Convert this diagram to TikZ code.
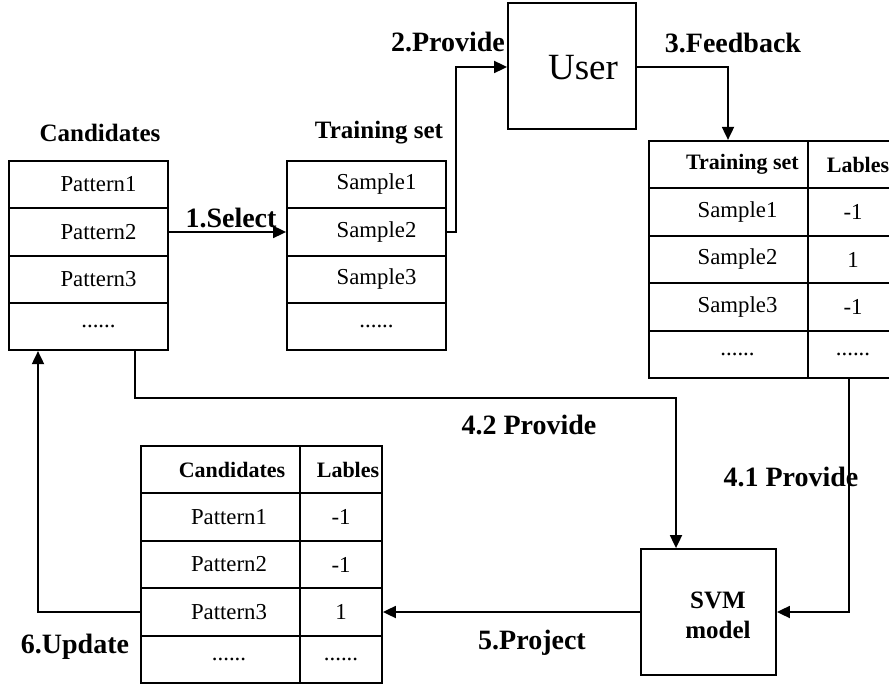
\documentclass[tikz,border=0pt]{standalone}
\usepackage{fontspec}
\setmainfont{Liberation Serif}
\usetikzlibrary{arrows.meta}
\tikzset{
  every picture/.style={x=1pt,y=-1pt},
  cell/.style={draw,line width=1.8pt,inner sep=0pt,font=\fontsize{22.8}{26}\selectfont},
  hcell/.style={cell,font=\fontsize{22}{26}\selectfont\bfseries},
  wide/.style={minimum width=159pt},
  narrowa/.style={minimum width=90pt},
  narrowb/.style={minimum width=82pt},
  rowh/.style={minimum height=47.4pt},
  bigbox/.style={draw,line width=1.8pt,inner sep=0pt},
  lbl/.style={font=\fontsize{28}{32}\selectfont\bfseries,inner sep=0pt},
  ttl/.style={font=\fontsize{25}{29}\selectfont\bfseries,inner sep=0pt},
  arr/.style={line width=1.8pt,-{Triangle[length=13pt,width=12pt]}}
}
\begin{document}
\begin{tikzpicture}
\useasboundingbox (0,0) rectangle (889,684);

% Left: Candidates
\node[ttl] (candT) at (100,133) {Candidates};
\node[cell,wide,rowh] (c1) at (88.5,184.5) {\hspace*{20pt}Pattern1};
\node[cell,wide,rowh] (c2) at (88.5,232) {\hspace*{20pt}Pattern2};
\node[cell,wide,rowh] (c3) at (88.5,279.5) {\hspace*{20pt}Pattern3};
\node[cell,wide,rowh] (c4) at (88.5,326.5) {\hspace*{20pt}......};

% Training set
\node[ttl] (trT) at (379,133) {Training set};
\node[cell,wide,rowh] (t1) at (366.5,184.5) {\hspace*{20pt}Sample1};
\node[cell,wide,rowh] (t2) at (366.5,232) {\hspace*{20pt}Sample2};
\node[cell,wide,rowh] (t3) at (366.5,279.5) {\hspace*{20pt}Sample3};
\node[cell,wide,rowh] (t4) at (366.5,326.5) {\hspace*{20pt}......};

% User
\node[bigbox,minimum width=128pt,minimum height=126pt] (user) at (572,66) {};
\node[font=\fontsize{37}{40}\selectfont,inner sep=0pt] (usertxt) at (583,68) {User};

% Right table
\node[hcell,wide,rowh] (r0a) at (728.5,164.5) {\hspace*{28pt}Training set};
\node[hcell,narrowa,rowh] (r0b) at (853,164.5) {\hspace*{10pt}Lables};
\node[cell,wide,rowh] (r1a) at (728.5,212) {\hspace*{18pt}Sample1};
\node[cell,narrowa,rowh] (r1b) at (853,212) {-1};
\node[cell,wide,rowh] (r2a) at (728.5,259.5) {\hspace*{18pt}Sample2};
\node[cell,narrowa,rowh] (r2b) at (853,259.5) {1};
\node[cell,wide,rowh] (r3a) at (728.5,307) {\hspace*{18pt}Sample3};
\node[cell,narrowa,rowh] (r3b) at (853,307) {-1};
\node[cell,wide,rowh] (r4a) at (728.5,354.5) {\hspace*{18pt}......};
\node[cell,narrowa,rowh] (r4b) at (853,354.5) {......};

% Bottom table
\node[hcell,wide,rowh] (b0a) at (220.5,469.5) {\hspace*{23pt}Candidates};
\node[hcell,narrowb,rowh] (b0b) at (341,469.5) {\hspace*{14pt}Lables};
\node[cell,wide,rowh] (b1a) at (220.5,517) {\hspace*{17pt}Pattern1};
\node[cell,narrowb,rowh] (b1b) at (341,517) {-1};
\node[cell,wide,rowh] (b2a) at (220.5,564.5) {\hspace*{17pt}Pattern2};
\node[cell,narrowb,rowh] (b2b) at (341,564.5) {-1};
\node[cell,wide,rowh] (b3a) at (220.5,612) {\hspace*{17pt}Pattern3};
\node[cell,narrowb,rowh] (b3b) at (341,612) {1};
\node[cell,wide,rowh] (b4a) at (220.5,659.5) {\hspace*{17pt}......};
\node[cell,narrowb,rowh] (b4b) at (341,659.5) {......};

% SVM
\node[bigbox,minimum width=135pt,minimum height=126pt] (svm) at (708.5,612) {};
\node[font=\fontsize{25}{30}\selectfont\bfseries,align=center,inner sep=0pt] (svmtxt) at (718,615) {SVM\\model};

% Labels
\node[lbl] (l1) at (231,218) {1.Select};
\node[lbl] (l2) at (448,42) {2.Provide};
\node[lbl] (l3) at (733,43) {3.Feedback};
\node[lbl] (l41) at (791,477) {4.1 Provide};
\node[lbl] (l42) at (529,425) {4.2 Provide};
\node[lbl] (l5) at (532,643) {5.Project};
\node[lbl] (l6) at (75,647) {6.Update};

% Coordinates for bends
\coordinate (p2a) at (456,232);
\coordinate (p2b) at (456,67);
\coordinate (p3) at (728,67);
\coordinate (p41) at (849,612);
\coordinate (p42a) at (135,398);
\coordinate (p42b) at (676,398);
\coordinate (p6) at (38,612);

% Connectors
\draw[arr] (c2.east) -- (t2.west);
\draw[arr] (t2.east) -- (p2a) -- (p2b) -- (user.west |- p2b);
\draw[arr] (user.east |- p3) -- (p3) -- (p3 |- r0a.north);
\draw[arr] (p41 |- r4b.south) -- (p41) -- (svm.east |- p41);
\draw[arr] (p42a |- c4.south) -- (p42a) -- (p42b) -- (p42b |- svm.north);
\draw[arr] (svm.west) -- (b3b.east);
\draw[arr] (b3a.west) -- (p6) -- (p6 |- c4.south);
\end{tikzpicture}
\end{document}
